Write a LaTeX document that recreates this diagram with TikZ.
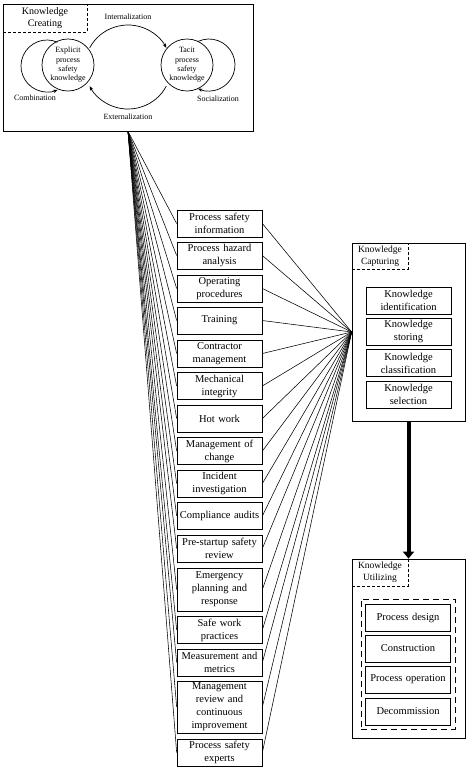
\documentclass[tikz,border=0pt]{standalone}
\usepackage{fontspec}
\setmainfont{Liberation Serif}
\usetikzlibrary{arrows.meta}
\begin{document}
\begin{tikzpicture}[x=1pt,y=-1pt,
 frame/.style={draw, line width=0.7pt, inner sep=0pt},
 pbox/.style={draw, line width=0.7pt, inner sep=0pt, minimum width=85pt, text width=84pt, align=center, font=\fontsize{10.5}{13}\selectfont},
 kbox/.style={pbox, minimum height=27pt},
 lbl/.style={draw, dash pattern=on 3pt off 2pt, line width=0.7pt, inner sep=0pt, minimum width=56pt, minimum height=26pt, align=center, font=\fontsize{9.5}{12}\selectfont},
 fan/.style={line width=0.55pt},
 small/.style={font=\fontsize{8}{9.3}\selectfont, align=center, inner sep=0pt},
 ring/.style={draw, circle, line width=0.7pt, minimum size=52pt, inner sep=0pt},
 cyc/.style={line width=0.7pt, -{Stealth[length=4.5pt,width=3.5pt]}},
]
\useasboundingbox (0,0) rectangle (474,769);
\fill[white] (0,0) rectangle (474,769);

% ---------- Knowledge creating ----------
\node[frame, minimum width=250pt, minimum height=127pt] (create) at (128,67.5) {};
\node[lbl, minimum width=84pt, minimum height=28pt, font=\fontsize{10}{11.7}\selectfont] (crelbl) at (45,18) {Knowledge\\Creating};

\draw[cyc] (57.57,42.25) arc[start angle=294, end angle=66, radius=26];
\draw[cyc] (198.01,41.44) arc[start angle=245, end angle=475, radius=26];
\draw[cyc] (89.69,47.93) arc[start angle=207, end angle=333, x radius=43, y radius=42];
\draw[cyc] (166.31,86.07) arc[start angle=27, end angle=153, x radius=43, y radius=42];

\node[ring] (expl) at (68,65) {};
\node[small] (explt) at (expl.center) {Explicit\\process\\safety\\knowledge};
\node[ring] (tacit) at (187,65) {};
\node[small] (tacitt) at (tacit.center) {Tacit\\process\\safety\\knowledge};

\node[small] (intl) at (128,17) {Internalization};
\node[small] (extl) at (128,117) {Externalization};
\node[small] (coml) at (35,98) {Combination};
\node[small] (socl) at (218,99) {Socialization};

% ---------- Elements ----------
\node[pbox, minimum height=27pt] (b1) at (219.5,223.5) {Process safety\\information};
\node[pbox, minimum height=27pt] (b2) at (219.5,255.5) {Process hazard\\analysis};
\node[pbox, minimum height=27pt] (b3) at (219.5,288.5) {Operating\\procedures};
\node[pbox, minimum height=27pt] (b4) at (219.5,320.5) {Training};
\node[pbox, minimum height=27pt] (b5) at (219.5,353.5) {Contractor\\management};
\node[pbox, minimum height=27pt] (b6) at (219.5,386) {Mechanical\\integrity};
\node[pbox, minimum height=27pt] (b7) at (219.5,418.5) {Hot work};
\node[pbox, minimum height=27pt] (b8) at (219.5,451) {Management of\\change};
\node[pbox, minimum height=27pt] (b9) at (219.5,483.5) {Incident\\investigation};
\node[pbox, minimum height=27pt] (b10) at (219.5,516) {Compliance audits};
\node[pbox, minimum height=27pt] (b11) at (219.5,548.5) {Pre-startup safety\\review};
\node[pbox, minimum height=43pt] (b12) at (219.5,589.5) {Emergency\\planning and\\response};
\node[pbox, minimum height=27pt] (b13) at (219.5,630) {Safe work\\practices};
\node[pbox, minimum height=27pt] (b14) at (219.5,662.5) {Measurement and\\metrics};
\node[pbox, minimum height=52pt] (b15) at (219.5,707) {Management\\review and\\continuous\\improvement};
\node[pbox, minimum height=27pt] (b16) at (219.5,752.5) {Process safety\\experts};

% ---------- Knowledge capturing ----------
\node[frame, minimum width=113pt, minimum height=178pt] (capbox) at (408.5,332) {};
\node[lbl] (caplbl) at (380,256) {Knowledge\\Capturing};
\node[kbox] (c1) at (408.5,300.5) {Knowledge\\identification};
\node[kbox] (c2) at (408.5,331.5) {Knowledge\\storing};
\node[kbox] (c3) at (408.5,363) {Knowledge\\classification};
\node[kbox] (c4) at (408.5,394.5) {Knowledge\\selection};

\foreach \i in {1,...,16} {
  \draw[fan] (create.south) -- (b\i.west);
  \draw[fan] (b\i.east) -- (capbox.west);
}

% ---------- Knowledge utilizing ----------
\node[frame, minimum width=113pt, minimum height=179pt] (utilbox) at (408.5,648.5) {};
\node[lbl, minimum height=27pt] (utillbl) at (380,572.5) {Knowledge\\Utilizing};
\node[draw, dash pattern=on 6pt off 4pt, line width=0.7pt, inner sep=0pt, minimum width=94pt, minimum height=130pt] (utilin) at (408,664) {};
\node[kbox] (u1) at (408,617.5) {Process design};
\node[kbox] (u2) at (408,648.5) {Construction};
\node[kbox] (u3) at (408,679.5) {Process operation};
\node[kbox] (u4) at (408,711.5) {Decommission};

\draw[line width=4pt, -{Triangle[length=7pt,width=11pt]}] (capbox.south) -- (utilbox.north);
\end{tikzpicture}
\end{document}
